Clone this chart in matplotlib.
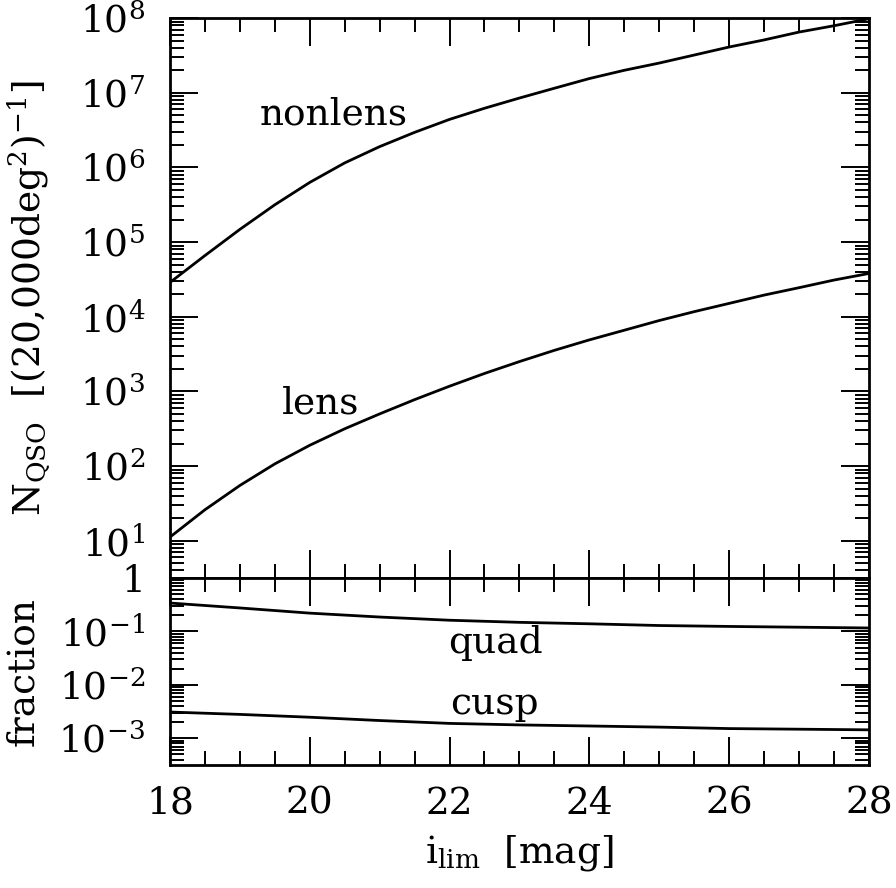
import numpy as np
import matplotlib
matplotlib.use("Agg")
import matplotlib.pyplot as plt
from matplotlib.ticker import MultipleLocator, LogLocator, FixedLocator, FixedFormatter, NullFormatter

plt.rcParams["font.family"] = ["DejaVu Serif"]
plt.rcParams["mathtext.fontset"] = "dejavuserif"

# limiting magnitude grids
i_lim = np.arange(18.0, 28.01, 0.5)
i_lim_frac = np.arange(18.0, 28.01, 1.0)

# number of quasars per 20,000 deg^2
n_nonlens = [2.88e4, 6.6e4, 1.48e5, 3.16e5, 6.3e5, 1.15e6, 1.9e6, 2.95e6, 4.4e6, 6.2e6, 8.5e6,
             1.15e7, 1.55e7, 2.0e7, 2.5e7, 3.2e7, 4.1e7, 5.1e7, 6.5e7, 7.9e7, 9.8e7]
n_lens = [11.2, 26, 55, 107, 190, 316, 500, 776, 1175, 1740, 2510,
          3550, 4900, 6600, 8900, 1.17e4, 1.51e4, 1.95e4, 2.45e4, 3.1e4, 3.8e4]

# fractions
frac_quad = [0.34, 0.275, 0.22, 0.186, 0.162, 0.148, 0.139, 0.129, 0.124, 0.12, 0.116]
frac_cusp = [0.0031, 0.0028, 0.00248, 0.00215, 0.0019, 0.00178, 0.0017, 0.00162, 0.00152, 0.00148, 0.00144]

top_ticks = [10.0 ** k for k in range(1, 9)]
top_labels = [r"$10^{%d}$" % k for k in range(1, 9)]
bot_ticks = [1e-3, 1e-2, 1e-1, 1.0]
bot_labels = [r"$10^{-3}$", r"$10^{-2}$", r"$10^{-1}$", "1"]

fs = 27
lw = 2.0

fig = plt.figure(figsize=(8.96, 8.88), dpi=100)
ax1 = fig.add_axes([0.1897, 0.349, 0.780, 0.6306])
ax2 = fig.add_axes([0.1897, 0.1385, 0.780, 0.2106])

ax1.plot(i_lim, n_nonlens, color="black", lw=lw)
ax1.plot(i_lim, n_lens, color="black", lw=lw)
ax1.set_yscale("log")
ax1.set_ylim(10 ** 0.5, 1e8)
ax1.text(20.34, 10 ** 6.57, "nonlens", fontsize=fs, ha="center", va="baseline")
ax1.text(20.15, 10 ** 2.71, "lens", fontsize=fs, ha="center", va="baseline")

ax2.plot(i_lim_frac, frac_quad, color="black", lw=lw)
ax2.plot(i_lim_frac, frac_cusp, color="black", lw=lw)
ax2.set_yscale("log")
ax2.set_ylim(10 ** -3.5, 1.0)
ax2.text(22.66, 0.0402, "quad", fontsize=fs, ha="center", va="baseline")
ax2.text(22.64, 0.00284, "cusp", fontsize=fs, ha="center", va="baseline")

ax1.yaxis.set_major_locator(FixedLocator(top_ticks))
ax1.yaxis.set_major_formatter(FixedFormatter(top_labels))
ax2.yaxis.set_major_locator(FixedLocator(bot_ticks))
ax2.yaxis.set_major_formatter(FixedFormatter(bot_labels))

for ax in (ax1, ax2):
    ax.set_xlim(18, 28)
    ax.xaxis.set_major_locator(MultipleLocator(2))
    ax.xaxis.set_minor_locator(MultipleLocator(0.5))
    ax.yaxis.set_minor_locator(LogLocator(base=10, subs=np.arange(2, 10), numticks=30))
    ax.yaxis.set_minor_formatter(NullFormatter())
    ax.tick_params(which="both", direction="in", top=True, right=True, labelsize=fs)
    ax.tick_params(axis="x", pad=15)
    ax.tick_params(axis="y", pad=18)
    ax.tick_params(which="major", length=20, width=1.4)
    ax.tick_params(which="minor", length=10, width=1.4)
    for sp in ax.spines.values():
        sp.set_linewidth(2.0)

ax1.tick_params(labelbottom=False)

# label anchor is the right-hand edge of the rotated text
ax1.set_ylabel(r"$\mathrm{N_{QSO}}$  [(20,000deg$^{2}$)$^{-1}$]", fontsize=fs)
ax1.yaxis.set_label_coords(-0.168, 0.5)
ax2.set_ylabel("fraction", fontsize=fs)
ax2.yaxis.set_label_coords(-0.185, 0.5)
ax2.set_xlabel(r"$\mathrm{i_{lim}}$  [mag]", fontsize=fs, labelpad=8)

fig.savefig("out.png", dpi=100)
